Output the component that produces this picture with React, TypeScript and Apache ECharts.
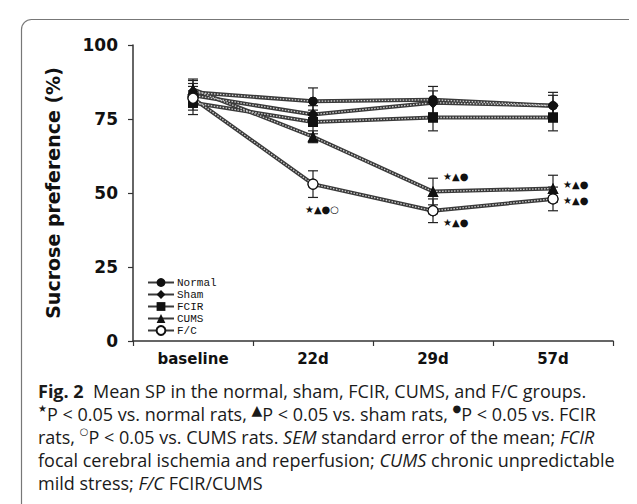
import React, { useEffect, useRef } from "react";
import * as echarts from "echarts";

const categories = ["baseline", "22d", "29d", "57d"];
const seriesNames = ["Normal", "Sham", "FCIR", "CUMS", "F/C"];

const normalValues = [84, 81, 81.5, 79.5];
const shamValues = [83, 76.5, 80.5, 79.5];
const fcirValues = [80.5, 74, 75.5, 75.5];
const cumsValues = [85, 69, 50.5, 51.5];
const fcValues = [82, 53, 44, 48];

const normalErr = [4, 4.5, 4.5, 4.5];
const shamErr = [4, 3, 4, 3.5];
const fcirErr = [4, 4, 4.5, 4.5];
const cumsErr = [3.5, 2, 4.5, 4.5];
const fcErr = [4, 4.5, 4, 4];

const yTicks = [0, 25, 50, 75, 100];

// annotation: [category index, value, text]
const annotations: [number, number, string][] = [
  [1, 44.5, "★▲●○"],
  [2, 55.5, "★▲●"],
  [2, 40, "★▲●"],
  [3, 53, "★▲●"],
  [3, 47.5, "★▲●"],
];

const captionLines = [
  "{b|Fig. 2}{n|  Mean SP in the normal, sham, FCIR, CUMS, and F/C groups.}",
  "{sup|★}{n|P < 0.05 vs. normal rats, }{supb|▲}{n|P < 0.05 vs. sham rats, }{sup|●}{n|P < 0.05 vs. FCIR}",
  "{n|rats, }{sup|○}{n|P < 0.05 vs. CUMS rats. }{i|SEM}{n| standard error of the mean; }{i|FCIR}",
  "{n|focal cerebral ischemia and reperfusion; }{i|CUMS}{n| chronic unpredictable}",
  "{n|mild stress; }{i|F/C}{n| FCIR/CUMS}",
];

const values = [normalValues, shamValues, fcirValues, cumsValues, fcValues];
const errs = [normalErr, shamErr, fcirErr, cumsErr, fcErr];
const symbols = ["circle", "diamond", "rect", "triangle", "circle"];
const symbolSizes = [9, 11, 10, 11, 10];

const CAP = 18;

export default function App() {
  const ref = useRef<HTMLDivElement>(null);
  useEffect(() => {
    if (!ref.current) return;
    const chart = echarts.init(ref.current, undefined, { renderer: "svg" });
    const series: any[] = [];
    seriesNames.forEach((name, k) => {
      const itemStyle =
        k === 4
          ? { color: "#ffffff", borderColor: "#111", borderWidth: 1.2 }
          : { color: "#111", borderColor: "#111", borderWidth: 0 };
      series.push({
        type: "custom",
        name: name + " err",
        z: 1,
        silent: true,
        data: values[k].map((v, i) => [i, v - errs[k][i], v + errs[k][i]]),
        encode: { x: 0, y: [1, 2] },
        renderItem: (params: any, api: any) => {
          const lo = api.coord([api.value(0), api.value(1)]);
          const hi = api.coord([api.value(0), api.value(2)]);
          const cap = 5;
          const st = { stroke: "#222", lineWidth: 1.2 };
          return {
            type: "group",
            children: [
              { type: "line", shape: { x1: lo[0], y1: lo[1], x2: hi[0], y2: hi[1] }, style: st },
              { type: "line", shape: { x1: lo[0] - cap, y1: lo[1], x2: lo[0] + cap, y2: lo[1] }, style: st },
              { type: "line", shape: { x1: hi[0] - cap, y1: hi[1], x2: hi[0] + cap, y2: hi[1] }, style: st },
            ],
          };
        },
      });
      series.push({
        type: "line",
        name,
        data: values[k],
        symbol: symbols[k],
        symbolSize: symbolSizes[k],
        itemStyle,
        lineStyle: { color: "#3a3a3a", width: 4 },
        z: 2,
      });
      series.push({
        type: "line",
        name: name + " overlay",
        data: values[k],
        symbol: "none",
        silent: true,
        lineStyle: { color: "#cfcfcf", width: 1.3, type: [1.5, 1.5] },
        z: 3,
      });
      series.push({
        type: "line",
        name: name + " markers",
        data: values[k],
        symbol: symbols[k],
        symbolSize: symbolSizes[k],
        showSymbol: true,
        itemStyle,
        lineStyle: { width: 0, opacity: 0 },
        z: 4,
        silent: true,
      });
    });
    series.push({
      type: "scatter",
      name: "annotations",
      z: 6,
      silent: true,
      symbolSize: 2,
      itemStyle: { color: "rgba(0,0,0,0)" },
      data: annotations.map(([c, v, t], idx) => ({
        value: [c, v],
        label: {
          show: true,
          formatter: t,
          position: idx === 0 ? "inside" : "right",
          offset: idx === 0 ? [9, 0] : [-1, 0],
          distance: 10,
          color: "#111",
          opacity: 1,
          fontSize: 10,
          fontFamily: "DejaVu Sans",
        },
      })),
    });

    const n = { fontFamily: "Open Sans", fontSize: CAP, color: "#1a1a1a", lineHeight: 22 };
    chart.setOption({
      animation: false,
      backgroundColor: "#ffffff",
      grid: { left: 125, right: 32, top: 37, bottom: 171 },
      legend: {
        data: seriesNames,
        orient: "vertical",
        left: 134,
        top: 264,
        itemGap: 1,
        itemWidth: 26,
        itemHeight: 11,
        textStyle: { fontFamily: "Liberation Mono", fontSize: 11, color: "#111", padding: [0, 0, 0, -2] },
        selectedMode: false,
      },
      xAxis: {
        type: "category",
        data: categories,
        boundaryGap: true,
        axisLine: { lineStyle: { color: "#333", width: 1.5 } },
        axisTick: { show: true, length: 5, lineStyle: { color: "#333", width: 1.2 } },
        axisLabel: {
          fontFamily: "DejaVu Sans",
          fontWeight: "bold",
          fontSize: 15,
          color: "#111",
          margin: 10,
        },
      },
      yAxis: {
        type: "value",
        min: yTicks[0],
        max: yTicks[yTicks.length - 1],
        interval: 25,
        name: "Sucrose preference (%)",
        nameLocation: "middle",
        nameGap: 71,
        nameTextStyle: { fontFamily: "DejaVu Sans", fontWeight: "bold", fontSize: 19, color: "#111" },
        axisLine: { show: true, lineStyle: { color: "#333", width: 1.5 } },
        axisTick: { show: true, length: 5, lineStyle: { color: "#333", width: 1.2 } },
        splitLine: { show: false },
        axisLabel: {
          fontFamily: "DejaVu Sans",
          fontWeight: "bold",
          fontSize: 17,
          color: "#111",
          margin: 15,
        },
      },
      graphic: [
        {
          type: "rect",
          shape: { x: 13.5, y: 11.5, width: 619, height: 540, r: 10 },
          style: { fill: "none", stroke: "#777", lineWidth: 1.2 },
          silent: true,
          z: -1,
        },
        ...captionLines.map((line, i) => ({
          type: "text",
          x: 30,
          y: 383 + i * 23,
          silent: true,
          style: {
            text: line,
            fontFamily: "Open Sans",
            fontSize: CAP,
            fill: "#1a1a1a",
            verticalAlign: "middle",
            rich: {
              n,
              b: { ...n, fontWeight: "bold", color: "#111" },
              i: { ...n, fontStyle: "italic" },
              sup: { fontFamily: "DejaVu Sans", fontSize: 10, color: "#111", verticalAlign: "top", lineHeight: 12 },
              supb: { fontFamily: "DejaVu Sans", fontSize: 14, color: "#111", verticalAlign: "top", lineHeight: 14 },
            },
          },
        })),
      ],
      series,
    });
    return () => chart.dispose();
  }, []);
  return <div ref={ref} style={{ width: 637, height: 504 }} />;
}
